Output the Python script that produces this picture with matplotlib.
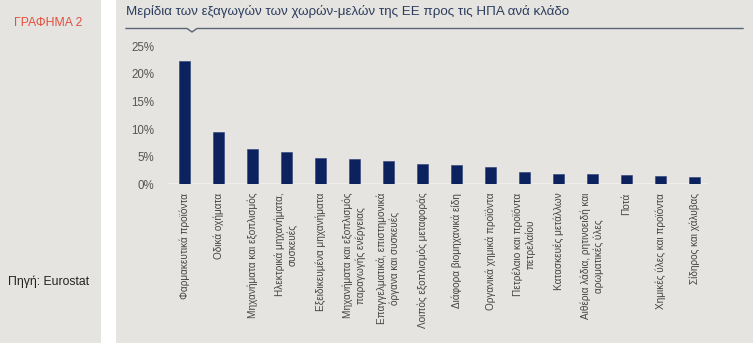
import matplotlib
matplotlib.use("Agg")
import matplotlib.pyplot as plt
from matplotlib.patches import Rectangle
from matplotlib.lines import Line2D

plt.rcParams['font.family'] = ['Liberation Sans', 'DejaVu Sans']

categories = [
    "Φαρμακευτικά προϊόντα",
    "Οδικά οχήματα",
    "Μηχανήματα και εξοπλισμός",
    "Ηλεκτρικά μηχανήματα,\nσυσκευές",
    "Εξειδικευμένα μηχανήματα",
    "Μηχανήματα και εξοπλισμός\nπαραγωγής ενέργειας",
    "Επαγγελματικά, επιστημονικά\nόργανα και συσκευές",
    "Λοιπός εξοπλισμός μεταφοράς",
    "Διάφορα βιομηχανικά είδη",
    "Οργανικά χημικά προϊόντα",
    "Πετρέλαιο και προϊόντα\nπετρελαίου",
    "Κατασκευές μετάλλων",
    "Αιθέρια λάδια, ρητινοειδή και\nαρωματικές ύλες",
    "Ποτά",
    "Χημικές ύλες και προϊόντα",
    "Σίδηρος και χάλυβας",
]
values = [22.3, 9.4, 6.4, 5.9, 4.85, 4.55, 4.2, 3.7, 3.5, 3.1, 2.2, 1.9, 1.85, 1.7, 1.5, 1.4]
yticks = [0, 5, 10, 15, 20, 25]
ytick_labels = ["0%", "5%", "10%", "15%", "20%", "25%"]

title = "Μερίδια των εξαγωγών των χωρών-μελών της ΕΕ προς τις ΗΠΑ ανά κλάδο"
chart_label = "ΓΡΑΦΗΜΑ 2"
source = "Πηγή: Eurostat"

W, H = 753, 343
BG = '#e5e4e0'
fig = plt.figure(figsize=(W / 100, H / 100), dpi=100, facecolor='white')

def fx(px):
    return px / W

def fy(py):
    return 1 - py / H

# panels
fig.patches.append(Rectangle((0, 0), fx(101), 1, transform=fig.transFigure,
                             facecolor=BG, edgecolor='none', zorder=-5))
fig.patches.append(Rectangle((fx(116), 0), 1 - fx(116), 1, transform=fig.transFigure,
                             facecolor=BG, edgecolor='none', zorder=-5))

# title & rule with notch
fig.text(fx(126), fy(12), title, fontsize=9.6, color='#2c3d5e', ha='left', va='center')
xs = [126, 187, 192, 197, 743]
ys = [28.5, 28.5, 32, 28.5, 28.5]
fig.add_artist(Line2D([fx(x) for x in xs], [fy(y) for y in ys], transform=fig.transFigure,
                      color='#5b6577', linewidth=1.0))

fig.text(fx(48.5), fy(23), chart_label, fontsize=8.8, color='#e2503f', ha='center', va='center')
fig.text(fx(8), fy(281.5), source, fontsize=8.8, color='#222222', ha='left', va='center')

# axes
left, right = 168, 708
top, bottom = 46.1, 184.5
ax = fig.add_axes([fx(left), fy(bottom), fx(right - left), (bottom - top) / H])
ax.set_zorder(5)
ax.set_facecolor('none')
x = list(range(len(values)))
ax.bar(x, values, width=0.32, color='#0b225e', edgecolor='#2a3f7a', linewidth=0.4, zorder=3)
ax.axhline(0, color='#f3f2ef', linewidth=1.2, zorder=2)
ax.set_xlim(-0.485, 15.4)
ax.set_ylim(0, 25)
ax.set_yticks(yticks)
ax.set_yticklabels(ytick_labels, fontsize=8.3, color='#555555')
ax.set_xticks(x)
ax.set_xticklabels(categories, rotation=90, fontsize=7.2, color='#444444',
                   ha='center', va='top', multialignment='center', linespacing=1.25)
ax.tick_params(axis='both', length=0)
ax.tick_params(axis='y', pad=10)
ax.tick_params(axis='x', pad=6)
for s in ax.spines.values():
    s.set_visible(False)

fig.savefig('out.png', dpi=100, facecolor='white')
